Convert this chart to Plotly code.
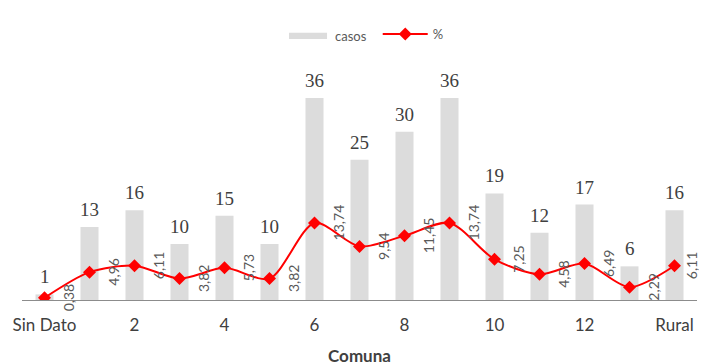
import plotly.graph_objects as go

# Data
comunas = ["Sin Dato", "1", "2", "3", "4", "5", "6", "7", "8", "9", "10", "11", "12", "13", "Rural"]
casos = [1, 13, 16, 10, 15, 10, 36, 25, 30, 36, 19, 12, 17, 6, 16]
pct = [0.38, 4.96, 6.11, 3.82, 5.73, 3.82, 13.74, 9.54, 11.45, 13.74, 7.25, 4.58, 6.49, 2.29, 6.11]
tick_labels = ["Sin Dato", "2", "4", "6", "8", "10", "12", "Rural"]

BAR_COLOR = "#dcdcdc"

fig = go.Figure()

fig.add_trace(go.Bar(
    x=comunas, y=casos, name="casos", showlegend=False,
    marker=dict(color=BAR_COLOR, line=dict(width=0)),
    width=0.4,
))

fig.add_trace(go.Scatter(
    x=comunas, y=pct, name="%", mode="lines+markers",
    line=dict(color="#ff0000", width=2, shape="spline", smoothing=0.8),
    marker=dict(symbol="diamond", size=10, color="#ff0000"),
))

# value labels above bars
for c, v in zip(comunas, casos):
    fig.add_annotation(x=c, y=v, text=str(v), showarrow=False,
                       yanchor="bottom", yshift=5,
                       font=dict(family="Liberation Serif", size=19, color="#404040"))

# rotated percent labels beside the line points (last one pulled in so it stays on the page)
for i, (c, p) in enumerate(zip(comunas, pct)):
    fig.add_annotation(x=c, y=p, text=f"{p:.2f}".replace(".", ","), showarrow=False,
                       textangle=-90, xshift=24 if i < len(comunas) - 1 else 17,
                       font=dict(family="Lato", size=14, color="#595959"))

# legend entry for the bars drawn by hand (wide flat swatch like the original)
fig.add_shape(type="rect", xref="paper", yref="paper",
              x0=0.3956, x1=0.4519, y0=1.092, y1=1.118,
              fillcolor=BAR_COLOR, line=dict(width=0))
fig.add_annotation(xref="paper", yref="paper", x=0.4607, y=1.106,
                   xanchor="left", yanchor="middle", showarrow=False, text="casos",
                   font=dict(family="Lato", size=13, color="#595959"))

# page body adds an 8px offset, so margins are set to land the plot where the reference has it
fig.update_layout(
    width=707, height=363,
    margin=dict(l=14, r=18, t=52, b=71),
    plot_bgcolor="white", paper_bgcolor="white",
    showlegend=True,
    legend=dict(orientation="h", x=0.527, xanchor="left", y=1.108, yanchor="middle",
                font=dict(family="Lato", size=13, color="#595959"),
                itemwidth=45),
    xaxis=dict(
        type="category", categoryorder="array", categoryarray=comunas,
        range=[-0.5, 14.5], automargin=False,
        tickmode="array", tickvals=tick_labels, ticktext=tick_labels,
        showline=True, linecolor="#8c8c8c", linewidth=1,
        showgrid=False, ticks="outside", ticklen=10, tickcolor="rgba(0,0,0,0)",
        tickfont=dict(family="Lato", size=17, color="#404040"),
        title=dict(text="<b>Comuna</b>", standoff=15,
                   font=dict(family="Lato", size=17, color="#404040")),
    ),
    yaxis=dict(visible=False, range=[0, 42.6], automargin=False),
)

fig.write_html("out.html")
